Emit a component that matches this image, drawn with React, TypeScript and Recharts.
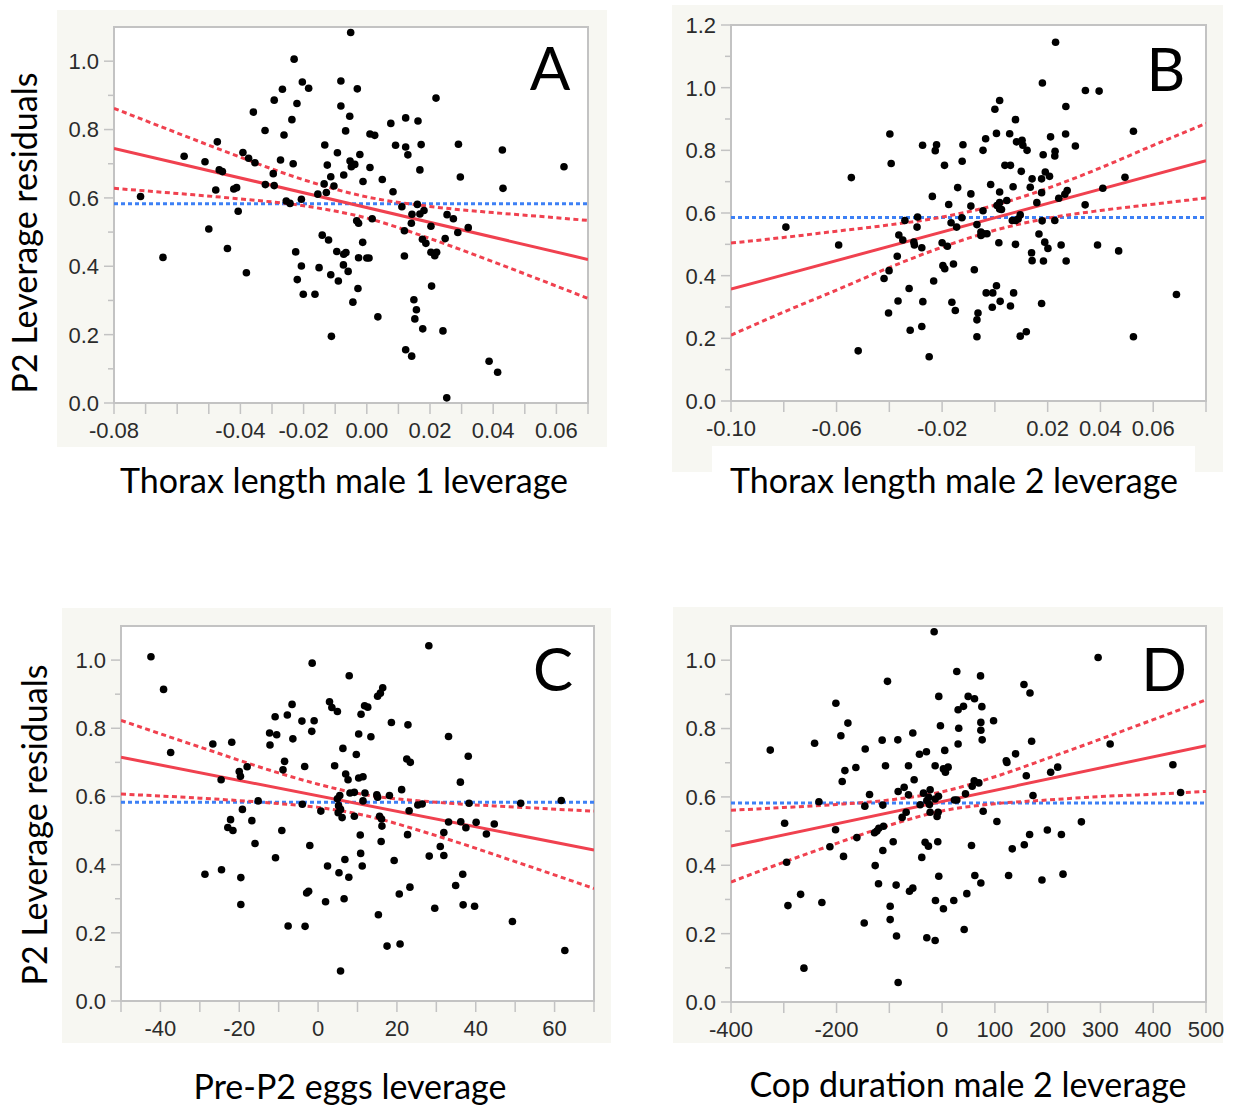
import { Scatter, ScatterChart, XAxis, YAxis } from "recharts"

type Pt = [number, number]

// ---- panel A: thorax length male 1 ----
const pointsA: Pt[] = [
  [-0.0716, 0.604], [-0.0645, 0.426], [-0.0578, 0.722], [-0.0512, 0.706], [-0.05, 0.509], [-0.0473, 0.764],
  [-0.0478, 0.623], [-0.0467, 0.682], [-0.0457, 0.677], [-0.0441, 0.452], [-0.0421, 0.626], [-0.0412, 0.63],
  [-0.0407, 0.561], [-0.0392, 0.733], [-0.0381, 0.381], [-0.0374, 0.716], [-0.0354, 0.703], [-0.0359, 0.851],
  [-0.0322, 0.797], [-0.0321, 0.639], [-0.0296, 0.671], [-0.0293, 0.636], [-0.0293, 0.886], [-0.0267, 0.918],
  [-0.0262, 0.784], [-0.0273, 0.711], [-0.0255, 0.591], [-0.0243, 0.584], [-0.0237, 0.829], [-0.0233, 0.7],
  [-0.023, 1.006], [-0.0221, 0.876], [-0.0225, 0.442], [-0.022, 0.361], [-0.0207, 0.401], [-0.0207, 0.596],
  [-0.0204, 0.939], [-0.0184, 0.921], [-0.0201, 0.318], [-0.0164, 0.318], [-0.0155, 0.611], [-0.0151, 0.396],
  [-0.0141, 0.491], [-0.0133, 0.755], [-0.0135, 0.641], [-0.0125, 0.696], [-0.0128, 0.616], [-0.0121, 0.477],
  [-0.0114, 0.662], [-0.0114, 0.375], [-0.0112, 0.195], [-0.0104, 0.635], [-0.0095, 0.443], [-0.0093, 0.732],
  [-0.009, 0.357], [-0.0082, 0.942], [-0.0082, 0.869], [-0.0073, 0.667], [-0.0073, 0.435], [-0.0066, 0.44],
  [-0.0074, 0.404], [-0.0067, 0.796], [-0.0059, 0.385], [-0.0054, 0.839], [-0.0053, 0.708], [-0.0051, 1.084],
  [-0.0049, 0.691], [-0.0044, 0.295], [-0.003, 0.919], [0.0219, 0.892], [0.0076, 0.818], [0.0123, 0.834],
  [0.0162, 0.825], [0.001, 0.787], [0.0025, 0.783], [-0.0038, 0.698], [-0.0022, 0.727], [0.001, 0.689],
  [-0.0012, 0.648], [0.0049, 0.654], [0.0091, 0.754], [0.0123, 0.749], [0.013, 0.726], [0.0172, 0.756],
  [0.0168, 0.682], [0.0083, 0.618], [0.0111, 0.574], [0.016, 0.581], [0.0143, 0.552], [0.0168, 0.553],
  [0.0181, 0.563], [0.0141, 0.526], [0.0119, 0.504], [0.0203, 0.517], [0.0254, 0.551], [0.0274, 0.539],
  [0.0288, 0.499], [0.0321, 0.513], [0.029, 0.757], [0.0296, 0.661], [0.0429, 0.74], [0.0431, 0.628],
  [0.0624, 0.691], [0.0017, 0.539], [-0.0032, 0.533], [-0.0026, 0.526], [-0.0013, 0.47], [-0.0026, 0.425],
  [0.0, 0.424], [0.0007, 0.424], [-0.0028, 0.335], [0.0119, 0.43], [0.0176, 0.479], [0.0187, 0.467],
  [0.0203, 0.441], [0.0215, 0.431], [0.0221, 0.441], [0.0248, 0.481], [0.0205, 0.342], [0.0035, 0.252],
  [0.0149, 0.302], [0.0157, 0.273], [0.0152, 0.246], [0.0177, 0.217], [0.0241, 0.211], [0.0123, 0.156],
  [0.0142, 0.137], [0.0253, 0.015], [0.0387, 0.122], [0.0414, 0.09],
]
const fitXA = [-0.08, 0.07]
const fitYA = [0.745, 0.42]
const bandXA = [-0.08, -0.06, -0.04, -0.02, 0, 0.02, 0.04, 0.06, 0.07]
const upperA = [0.862, 0.79, 0.719, 0.653, 0.603, 0.575, 0.557, 0.542, 0.534]
const lowerA = [0.628, 0.613, 0.597, 0.577, 0.541, 0.481, 0.413, 0.342, 0.306]
const meanA = 0.583
const xTicksA = [-0.08, -0.07, -0.06, -0.05, -0.04, -0.03, -0.02, -0.01, 0, 0.01, 0.02, 0.03, 0.04, 0.05, 0.06, 0.07]
const xLabelsA = [-0.08, -0.04, -0.02, 0, 0.02, 0.04, 0.06]

// ---- panel B: thorax length male 2 ----
const pointsB: Pt[] = [
  [-0.0792, 0.555], [-0.0592, 0.498], [-0.0544, 0.713], [-0.0518, 0.16], [-0.0398, 0.852], [-0.0393, 0.758],
  [-0.042, 0.391], [-0.0401, 0.416], [-0.0403, 0.281], [-0.037, 0.462], [-0.0367, 0.319], [-0.0364, 0.53],
  [-0.0349, 0.514], [-0.0341, 0.576], [-0.0325, 0.359], [-0.0321, 0.226], [-0.0307, 0.507], [-0.0305, 0.498],
  [-0.0293, 0.587], [-0.0295, 0.555], [-0.0277, 0.489], [-0.0277, 0.238], [-0.0274, 0.816], [-0.0273, 0.317],
  [-0.0249, 0.141], [-0.0237, 0.653], [-0.0232, 0.383], [-0.0226, 0.799], [-0.0221, 0.818], [-0.02, 0.505],
  [-0.0197, 0.432], [-0.019, 0.422], [-0.0191, 0.752], [-0.018, 0.494], [-0.0175, 0.627], [-0.0163, 0.315],
  [-0.0166, 0.569], [-0.0157, 0.437], [-0.015, 0.289], [-0.0145, 0.555], [-0.0141, 0.681],
  [-0.0121, 0.818], [-0.0124, 0.765], [-0.0125, 0.585], [-0.0091, 0.661], [-0.0091, 0.622], [-0.0078, 0.419],
  [-0.0068, 0.563], [-0.0068, 0.259], [-0.0064, 0.281], [-0.0068, 0.205], [-0.0053, 0.528], [-0.0053, 0.539],
  [-0.0043, 0.534], [-0.003, 0.534], [-0.0045, 0.607], [-0.0045, 0.8], [-0.0035, 0.837], [-0.0033, 0.345],
  [-0.0008, 0.345], [-0.0016, 0.691], [-0.001, 0.299], [0.0, 0.931], [0.0006, 0.368], [0.0006, 0.854],
  [0.0018, 0.959], [0.0018, 0.667], [0.0008, 0.624], [0.0018, 0.633], [0.0018, 0.613], [0.0025, 0.611],
  [0.0015, 0.505], [0.002, 0.318], [0.0038, 0.752], [0.0059, 0.752], [0.0045, 0.64], [0.0056, 0.853],
  [0.0059, 0.303], [0.0069, 0.684], [0.0071, 0.345], [0.0066, 0.576], [0.0078, 0.576], [0.0088, 0.581],
  [0.0096, 0.594], [0.0078, 0.898], [0.0078, 0.5], [0.0082, 0.827], [0.0103, 0.832], [0.0106, 0.816],
  [0.0122, 0.8], [0.01, 0.733], [0.0096, 0.207], [0.0119, 0.221], [0.0134, 0.682], [0.0141, 0.709],
  [0.0139, 0.473], [0.0141, 0.448], [0.0159, 0.633], [0.0167, 0.533], [0.0177, 0.665], [0.0177, 0.709],
  [0.0183, 0.786], [0.0179, 0.575], [0.018, 1.015], [0.0177, 0.311], [0.0184, 0.447], [0.0191, 0.731],
  [0.0207, 0.717], [0.0189, 0.507], [0.0201, 0.487], [0.0211, 0.843], [0.0227, 0.782], [0.0228, 0.797],
  [0.0227, 0.576], [0.023, 1.145], [0.0242, 0.647], [0.0251, 0.498], [0.0265, 0.66], [0.0274, 0.672],
  [0.0269, 0.94], [0.0268, 0.852], [0.027, 0.447], [0.0305, 0.814], [0.0342, 0.626], [0.0343, 0.991],
  [0.0395, 0.989], [0.0389, 0.498], [0.0409, 0.679], [0.0469, 0.479], [0.0493, 0.714], [0.0525, 0.861],
  [0.0525, 0.205], [0.0688, 0.34],
]
const fitXB = [-0.1, 0.08]
const fitYB = [0.357, 0.767]
const bandXB = [-0.1, -0.08, -0.06, -0.04, -0.02, 0, 0.02, 0.04, 0.06, 0.08]
const upperB = [0.504, 0.522, 0.542, 0.562, 0.587, 0.625, 0.679, 0.744, 0.816, 0.886]
const lowerB = [0.21, 0.284, 0.354, 0.426, 0.491, 0.545, 0.583, 0.608, 0.628, 0.648]
const meanB = 0.586
const xTicksB = [-0.1, -0.08, -0.06, -0.04, -0.02, 0, 0.02, 0.04, 0.06, 0.08]
const xLabelsB = [-0.1, -0.06, -0.02, 0.02, 0.04, 0.06]

// ---- panel C: pre-P2 eggs ----
const pointsC: Pt[] = [
  [-42.4, 1.01], [-39.2, 0.914], [-37.4, 0.729], [-28.7, 0.372], [-26.7, 0.754], [-24.6, 0.649], [-24.5, 0.385],
  [-21.9, 0.759], [-22.2, 0.532], [-22.9, 0.509], [-21.6, 0.5], [-20.0, 0.673], [-19.7, 0.659], [-19.2, 0.562],
  [-19.6, 0.362], [-19.6, 0.283], [-18.0, 0.687], [-16.8, 0.529], [-16.0, 0.462], [-15.2, 0.587], [-12.2, 0.751],
  [-12.3, 0.786], [-10.9, 0.834], [-10.5, 0.781], [-10.8, 0.42], [-9.2, 0.5], [-8.5, 0.703], [-8.9, 0.678],
  [-7.8, 0.839], [-7.6, 0.22], [-6.6, 0.87], [-6.4, 0.769], [-4.1, 0.821], [-4.0, 0.577], [-3.4, 0.688],
  [-3.3, 0.219], [-2.1, 0.456], [-2.9, 0.317], [-2.4, 0.322], [-1.5, 0.991], [-1.6, 0.791], [-1.0, 0.822],
  [0.7, 0.557], [1.9, 0.291], [2.4, 0.396], [2.9, 0.878], [3.5, 0.861], [4.9, 0.849], [4.2, 0.69], [4.9, 0.593],
  [5.5, 0.603], [5.2, 0.573], [5.7, 0.562], [5.1, 0.552], [6.1, 0.538], [5.3, 0.376], [5.7, 0.088], [6.3, 0.741],
  [6.8, 0.415], [6.6, 0.3], [7.0, 0.666], [7.6, 0.649], [7.8, 0.363],
  [7.9, 0.954], [28.1, 1.042], [9.7, 0.723], [10.3, 0.783], [10.9, 0.841], [11.8, 0.866], [12.6, 0.862],
  [15.1, 0.894], [15.8, 0.903], [16.4, 0.919], [13.4, 0.775], [18.6, 0.817], [22.8, 0.81], [33.1, 0.776],
  [10.3, 0.654], [11.4, 0.658], [22.5, 0.71], [23.4, 0.7], [38.1, 0.718], [36.1, 0.642], [21.2, 0.62],
  [8.1, 0.61], [9.2, 0.612], [11.9, 0.61], [11.4, 0.587], [14.9, 0.605], [15.1, 0.598], [18.1, 0.603],
  [9.2, 0.542], [15.6, 0.542], [16.1, 0.534], [16.2, 0.513], [23.1, 0.558], [25.3, 0.575], [26.4, 0.578],
  [38.3, 0.58], [51.4, 0.58], [61.7, 0.588], [33.1, 0.525], [36.2, 0.526], [37.5, 0.508], [40.1, 0.524],
  [42.7, 0.49], [44.7, 0.519], [31.9, 0.494], [31.0, 0.453], [31.9, 0.427], [28.2, 0.425], [22.7, 0.488],
  [16.0, 0.468], [10.7, 0.487], [10.8, 0.433], [11.2, 0.396], [19.3, 0.412], [15.3, 0.253], [20.6, 0.314],
  [23.3, 0.334], [29.6, 0.272], [34.9, 0.339], [36.7, 0.372], [36.8, 0.282], [39.7, 0.278], [49.3, 0.233],
  [17.5, 0.161], [20.8, 0.167], [62.6, 0.148],
]
const fitXC = [-50, 70]
const fitYC = [0.715, 0.443]
const bandXC = [-50, -30, -10, 0, 10, 30, 50, 70]
const upperC = [0.823, 0.745, 0.669, 0.636, 0.609, 0.583, 0.569, 0.557]
const lowerC = [0.607, 0.595, 0.579, 0.568, 0.549, 0.485, 0.409, 0.33]
const meanC = 0.583
const xTicksC = [-50, -40, -30, -20, -10, 0, 10, 20, 30, 40, 50, 60, 70]
const xLabelsC = [-40, -20, 0, 20, 40, 60]

// ---- panel D: cop duration male 2 ----
const pointsD: Pt[] = [
  [-325.6, 0.737], [-298.4, 0.523], [-294.6, 0.409], [-292.1, 0.282], [-268.1, 0.315], [-261.8, 0.099],
  [-241.6, 0.757], [-233.4, 0.586], [-227.8, 0.291], [-212.6, 0.454], [-201.9, 0.504], [-201.3, 0.874],
  [-191.8, 0.779], [-189.3, 0.645], [-186.8, 0.426], [-184.2, 0.677], [-178.5, 0.816], [-163.4, 0.686],
  [-161.5, 0.481], [-147.6, 0.231], [-145.7, 0.74], [-146.4, 0.573], [-137.5, 0.607], [-126.8, 0.399],
  [-128.1, 0.495], [-123.7, 0.5], [-119.9, 0.508], [-120.5, 0.346], [-113.6, 0.766], [-112.3, 0.576],
  [-112.3, 0.443], [-111.0, 0.514], [-107.3, 0.691], [-103.5, 0.938], [-98.4, 0.28], [-98.4, 0.241],
  [-92.7, 0.469], [-86.4, 0.193], [-83.9, 0.767], [-83.3, 0.616], [-87.1, 0.342], [-83.3, 0.057],
  [-71.9, 0.628], [-75.7, 0.54], [-68.1, 0.555], [-63.7, 0.606], [-63.7, 0.691], [-61.8, 0.324],
  [-55.5, 0.333], [-55.5, 0.787], [-53.0, 0.65], [-42.9, 0.725], [-41.6, 0.577], [-38.5, 0.423],
  [-35.3, 0.611], [-32.2, 0.467], [-25.9, 0.456], [-29.7, 0.732], [-29.0, 0.188], [-29.0, 0.589],
  [-24.0, 0.578], [-25.2, 0.599], [-22.7, 0.621], [-22.7, 0.555], [-13.2, 0.691], [-13.2, 0.18],
  [-13.2, 0.594], [-12.6, 0.297], [-9.5, 0.543], [-7.6, 0.555], [-8.2, 0.469], [-6.9, 0.602],
  [-6.3, 0.894], [-3.2, 0.808], [-6.3, 0.368], [-15.1, 1.083], [2.5, 0.273], [5.0, 0.736], [2.5, 0.682],
  [6.3, 0.672], [11.4, 0.687], [22.1, 0.297], [23.3, 0.591], [27.8, 0.591], [27.8, 0.967], [30.3, 0.855],
  [31.5, 0.801], [30.3, 0.755],
  [40.5, 0.865], [72.8, 0.954], [49.4, 0.894], [61.4, 0.887], [75.3, 0.864], [73.4, 0.818], [73.4, 0.795],
  [75.9, 0.767], [97.5, 0.823], [155.1, 0.929], [166.5, 0.904], [169.6, 0.763], [295.6, 1.008],
  [318.4, 0.755], [139.2, 0.726], [121.5, 0.706], [122.8, 0.701], [159.5, 0.662], [205.7, 0.672],
  [219.0, 0.687], [437.3, 0.694], [451.9, 0.613], [60.8, 0.647], [57.0, 0.631], [69.6, 0.641],
  [44.3, 0.609], [172.2, 0.604], [77.8, 0.558], [103.8, 0.528], [263.9, 0.527], [199.4, 0.503],
  [226.0, 0.49], [165.8, 0.49], [55.7, 0.458], [132.9, 0.448], [155.7, 0.46], [62.0, 0.37], [73.4, 0.348],
  [126.0, 0.37], [189.2, 0.357], [229.1, 0.374], [46.8, 0.317], [41.8, 0.212],
]
const fitXD = [-400, 500]
const fitYD = [0.456, 0.75]
const bandXD = [-400, -300, -200, -100, 0, 100, 200, 300, 400, 500]
const upperD = [0.561, 0.569, 0.578, 0.591, 0.615, 0.659, 0.713, 0.769, 0.826, 0.884]
const lowerD = [0.351, 0.409, 0.464, 0.517, 0.559, 0.58, 0.591, 0.601, 0.608, 0.616]
const meanD = 0.582
const xTicksD = [-400, -300, -200, -100, 0, 100, 200, 300, 400, 500]
const xLabelsD = [-400, -200, 0, 100, 200, 300, 400, 500]

// shared y axes
const yTicks11 = [0, 0.1, 0.2, 0.3, 0.4, 0.5, 0.6, 0.7, 0.8, 0.9, 1.0]
const yLabels11 = [0, 0.2, 0.4, 0.6, 0.8, 1.0]
const yTicks12 = [0, 0.1, 0.2, 0.3, 0.4, 0.5, 0.6, 0.7, 0.8, 0.9, 1.0, 1.1, 1.2]
const yLabels12 = [0, 0.2, 0.4, 0.6, 0.8, 1.0, 1.2]

const AXIS = "#c3c3c3"
const RED = "#f0414f"
const BLUE = "#3d80f5"
const PANEL_BG = "#f7f7f2"
const TICK_FONT = "'Liberation Sans', Arial, sans-serif"
const TITLE_FONT = "Lato, 'Open Sans', sans-serif"

const toXY = (xs: number[], ys: number[]) => xs.map((x, i) => ({ x, y: ys[i] }))
const fromPts = (pts: Pt[]) => pts.map(([x, y]) => ({ x, y }))

function Panel(p: any) {
  const pw = p.right - p.left
  const ph = p.bottom - p.top
  const meanLine = toXY([p.xDomain[0], p.xDomain[1]], [p.mean, p.mean])

  const xTick = (props: any) => {
    const { x, y, payload } = props
    const v = payload.value
    return (
      <g>
        <line x1={x} x2={x} y1={y} y2={y + 11} stroke={AXIS} strokeWidth={1.5} />
        {p.xLabels.includes(v) && (
          <text x={x} y={y + 35} textAnchor="middle" fontSize={22} fill="#2b2b2b" fontFamily={TICK_FONT}>
            {p.xFmt(v)}
          </text>
        )}
      </g>
    )
  }
  const yTick = (props: any) => {
    const { x, y, payload } = props
    const v = payload.value
    const major = p.yLabels.includes(v)
    return (
      <g>
        <line x1={x - (major ? 10 : 6)} x2={x} y1={y} y2={y} stroke={AXIS} strokeWidth={1.5} />
        {major && (
          <text x={x - 15} y={y} dy="0.36em" textAnchor="end" fontSize={22} fill="#2b2b2b" fontFamily={TICK_FONT}>
            {v.toFixed(1)}
          </text>
        )}
      </g>
    )
  }

  return (
    <>
      <div
        style={{
          position: "absolute", left: p.left - 1, top: p.top - 1, width: pw + 2, height: ph + 2,
          boxSizing: "border-box", background: "#fff", border: `2px solid ${AXIS}`,
        }}
      />
      <div style={{ position: "absolute", left: p.left - 60, top: p.top - 20 }}>
        <ScatterChart width={pw + 100} height={ph + 80} margin={{ top: 20, right: 40, bottom: 0, left: 0 }}>
          <XAxis
            type="number" dataKey="x" domain={p.xDomain} ticks={p.xTicks} interval={0} allowDataOverflow
            height={60} tickSize={0} tickMargin={0} tickLine={false} axisLine={false} tick={xTick}
          />
          <YAxis
            type="number" dataKey="y" domain={p.yDomain} ticks={p.yTicks} interval={0} allowDataOverflow
            width={60} tickSize={0} tickMargin={0} tickLine={false} axisLine={false} tick={yTick}
          />
          <Scatter data={meanLine} shape={() => <g />} line={{ stroke: BLUE, strokeWidth: 3, strokeDasharray: "4 3" }} isAnimationActive={false} />
          <Scatter data={toXY(p.bandX, p.upper)} shape={() => <g />} lineJointType="monotoneX" line={{ stroke: RED, strokeWidth: 3, strokeDasharray: "5 3.5" }} isAnimationActive={false} />
          <Scatter data={toXY(p.bandX, p.lower)} shape={() => <g />} lineJointType="monotoneX" line={{ stroke: RED, strokeWidth: 3, strokeDasharray: "5 3.5" }} isAnimationActive={false} />
          <Scatter data={toXY(p.fitX, p.fitY)} shape={() => <g />} line={{ stroke: RED, strokeWidth: 3 }} isAnimationActive={false} />
          <Scatter
            data={fromPts(p.points)}
            shape={(s: any) => <circle cx={s.cx} cy={s.cy} r={3.8} fill="#000" />}
            isAnimationActive={false}
          />
        </ScatterChart>
      </div>
      <div
        style={{
          position: "absolute", left: p.letterX - 50, top: p.letterTop, width: 100, textAlign: "center",
          fontFamily: TITLE_FONT, fontSize: 60, lineHeight: "60px", color: "#000",
        }}
      >
        {p.letter}
      </div>
    </>
  )
}

function XTitle({ text, cx, baseline }: any) {
  return (
    <div
      style={{
        position: "absolute", left: cx - 300, top: baseline - 30, width: 600, textAlign: "center",
        fontFamily: TITLE_FONT, fontSize: 34, lineHeight: "34px", color: "#000", whiteSpace: "nowrap",
      }}
    >
      {text}
    </div>
  )
}

function YTitle({ text, cx, cy }: any) {
  return (
    <div
      style={{
        position: "absolute", left: cx - 250, top: cy - 17, width: 500, height: 34, textAlign: "center",
        fontFamily: TITLE_FONT, fontSize: 34, lineHeight: "34px", color: "#000", whiteSpace: "nowrap",
        transform: "rotate(-90deg)",
      }}
    >
      {text}
    </div>
  )
}

const fmt2 = (v: number) => v.toFixed(2)
const fmt0 = (v: number) => String(v)

export default function App() {
  return (
    <div style={{ position: "absolute", left: 0, top: 0, width: 1233, height: 1108, background: "#fff", overflow: "hidden" }}>
      {/* panel backgrounds */}
      <div style={{ position: "absolute", left: 57, top: 10, width: 550, height: 437, background: PANEL_BG }} />
      <div style={{ position: "absolute", left: 672, top: 5, width: 551, height: 467, background: PANEL_BG }} />
      <div style={{ position: "absolute", left: 712, top: 446, width: 483, height: 26, background: "#fff" }} />
      <div style={{ position: "absolute", left: 62, top: 608, width: 549, height: 435, background: PANEL_BG }} />
      <div style={{ position: "absolute", left: 673, top: 607, width: 550, height: 436, background: PANEL_BG }} />

      <Panel
        left={114} top={27} right={588} bottom={403}
        xDomain={[-0.08, 0.07]} yDomain={[0, 1.1]} xTicks={xTicksA} xLabels={xLabelsA} xFmt={fmt2}
        yTicks={yTicks11} yLabels={yLabels11} points={pointsA} fitX={fitXA} fitY={fitYA}
        bandX={bandXA} upper={upperA} lower={lowerA} mean={meanA} letter="A" letterX={550} letterTop={37}
      />
      <Panel
        left={731} top={25} right={1206} bottom={401}
        xDomain={[-0.1, 0.08]} yDomain={[0, 1.2]} xTicks={xTicksB} xLabels={xLabelsB} xFmt={fmt2}
        yTicks={yTicks12} yLabels={yLabels12} points={pointsB} fitX={fitXB} fitY={fitYB}
        bandX={bandXB} upper={upperB} lower={lowerB} mean={meanB} letter="B" letterX={1166} letterTop={38}
      />
      <Panel
        left={121} top={626} right={594} bottom={1001}
        xDomain={[-50, 70]} yDomain={[0, 1.1]} xTicks={xTicksC} xLabels={xLabelsC} xFmt={fmt0}
        yTicks={yTicks11} yLabels={yLabels11} points={pointsC} fitX={fitXC} fitY={fitYC}
        bandX={bandXC} upper={upperC} lower={lowerC} mean={meanC} letter="C" letterX={553} letterTop={638}
      />
      <Panel
        left={731} top={626} right={1206} bottom={1002}
        xDomain={[-400, 500]} yDomain={[0, 1.1]} xTicks={xTicksD} xLabels={xLabelsD} xFmt={fmt0}
        yTicks={yTicks11} yLabels={yLabels11} points={pointsD} fitX={fitXD} fitY={fitYD}
        bandX={bandXD} upper={upperD} lower={lowerD} mean={meanD} letter="D" letterX={1164} letterTop={638}
      />

      <XTitle text="Thorax length male 1 leverage" cx={344} baseline={493} />
      <XTitle text="Thorax length male 2 leverage" cx={954} baseline={493} />
      <XTitle text="Pre-P2 eggs leverage" cx={350} baseline={1099} />
      <XTitle text="Cop duration male 2 leverage" cx={968} baseline={1097} />
      <YTitle text="P2 Leverage residuals" cx={24} cy={233} />
      <YTitle text="P2 Leverage residuals" cx={34} cy={825} />
    </div>
  )
}
